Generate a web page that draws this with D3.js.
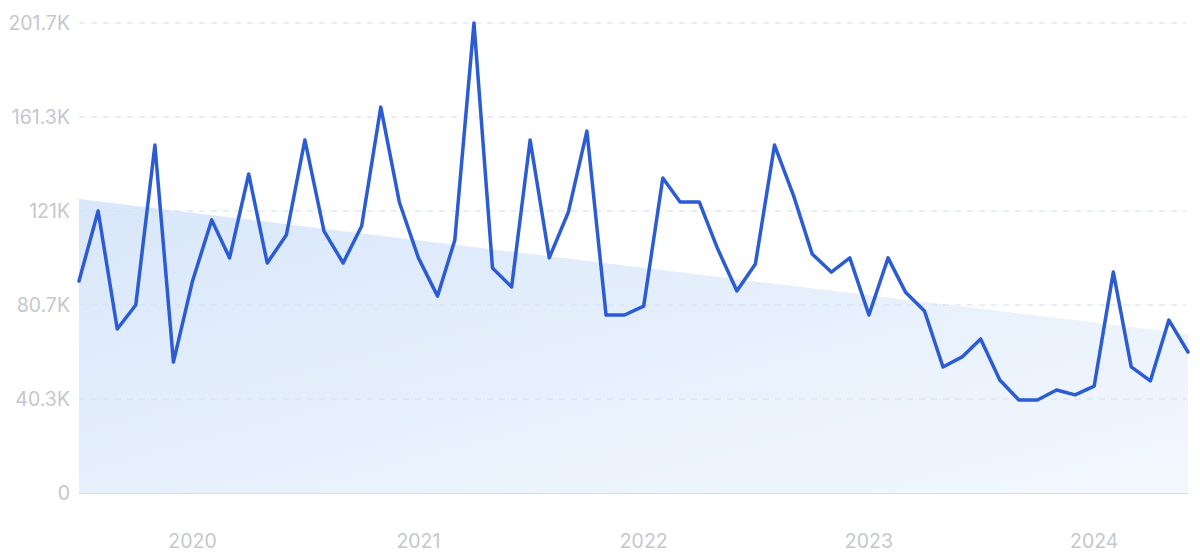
<!DOCTYPE html>
<html><head><meta charset="utf-8">
<script src="https://cdn.jsdelivr.net/npm/d3@7"></script>
<style>body{margin:0;background:#fff;}svg{display:block;font-family:Inter,"Open Sans",sans-serif;}</style>
</head><body><svg id="c" width="1200" height="557"></svg>
<script>
const months = d3.range(60).map(i => new Date(2019, 6 + i, 1));
const values = [91000,121000,70400,80700,149300,56200,91000,117200,100900,136900,98700,110700,
151500,112400,98700,114600,165600,124900,100900,84500,108600,201700,96600,88400,
151500,100900,120600,155300,76400,76400,80200,135200,124900,124900,104700,86700,
98300,149300,127500,102600,94800,100900,76400,100900,86300,78100,54100,58400,
66100,48500,39900,39900,44200,42100,45900,94800,54100,48100,74200,60500];
const trendValues = [126200, 68200];
const yTicks = [0, 40340, 80680, 121020, 161360, 201700];
const yTickLabels = ["0","40.3K","80.7K","121K","161.3K","201.7K"];
const xTickYears = [2020, 2021, 2022, 2023, 2024];

const svg = d3.select("#c");
const L = 79, R = 1188, T = 23, B = 493;
const x = d3.scaleTime().domain([months[0], months[months.length-1]]).range([L, R]);
const y = d3.scaleLinear().domain([0, 201700]).range([B, T]);

const defs = svg.append("defs");
const g = defs.append("linearGradient").attr("id","tg").attr("x1","0").attr("y1","0").attr("x2","1").attr("y2","1");
g.append("stop").attr("offset","0").attr("stop-color","#d9e7fa");
g.append("stop").attr("offset","1").attr("stop-color","#f3f8fe");

// trend area
const trendPts = [{d: months[0], v: trendValues[0]}, {d: months[months.length-1], v: trendValues[1]}];
svg.append("path").datum(trendPts)
  .attr("d", d3.area().x(d => x(d.d)).y0(y(0)).y1(d => y(d.v)))
  .attr("fill","url(#tg)");

// grid
svg.append("g").selectAll("line").data(yTicks.slice(1)).join("line")
  .attr("x1", L).attr("x2", 1186).attr("y1", d => y(d)).attr("y2", d => y(d))
  .attr("stroke","#d3def0").attr("stroke-width",1).attr("stroke-dasharray","6,6");
svg.append("line").attr("x1",L).attr("x2",R).attr("y1",y(0)+0.5).attr("y2",y(0)+0.5)
  .attr("stroke","#d3deec").attr("stroke-width",1.2);

// y labels
svg.append("g").selectAll("text").data(yTicks).join("text")
  .attr("x", 70).attr("y", d => y(d)).attr("dy","0.36em")
  .attr("text-anchor","end").attr("fill","#c6c7cd").attr("font-size",19.5)
  .text((d,i) => yTickLabels[i]);

// x labels
svg.append("g").selectAll("text").data(xTickYears).join("text")
  .attr("x", d => x(new Date(d,0,1))).attr("y", 547.5)
  .attr("text-anchor","middle").attr("fill","#c6c7cd").attr("font-size",19.5)
  .text(d => d);

// line
svg.append("path").datum(values)
  .attr("d", d3.line().x((d,i) => x(months[i])).y(d => y(d)))
  .attr("fill","none").attr("stroke","#2b5cd6").attr("stroke-width",3.5)
  .attr("stroke-linejoin","round").attr("stroke-linecap","round");
</script></body></html>
